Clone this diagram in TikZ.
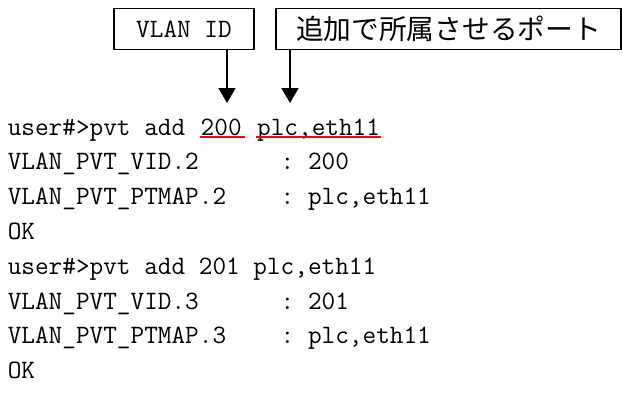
\documentclass[tikz,border=0pt]{standalone}
\usepackage{fontspec}
\usepackage{tikz}
\usetikzlibrary{arrows.meta}
\newfontfamily\jpfont{Noto Sans CJK JP}

\begin{document}
\begin{tikzpicture}[x=1pt, y=1pt, line width=1.6pt,
  term/.style={anchor=base west, inner sep=0pt, font=\fontsize{26.5}{35}\ttfamily},
  labelbox/.style={draw, minimum height=41pt, inner sep=0pt},
  pointer/.style={-{Triangle[width=17pt,length=15pt]}},
  markline/.style={red, line width=1.4pt}]
  \useasboundingbox (0,0) rectangle (622,392);
  \node [labelbox, minimum width=140pt, font=\fontsize{26.5}{35}\ttfamily] (vlanbox) at (184,363) {VLAN ID};
  \node [labelbox, minimum width=345pt, font=\fontsize{27.7}{35}\jpfont] (portbox) at (448.5,363) {追加で所属させるポート};
  \node [term] (cmd) at (7,257) {user\#>pvt~add};
  \node [term] (vid) at ([xshift=13.9pt]cmd.base east) {200};
  \node [term] (ports) at ([xshift=13.9pt]vid.base east) {plc,eth11};
  \node [term] (vidline) at (7,222.2) {VLAN\_PVT\_VID.2~~~~~~:~200};
  \node [term] (mapline) at (7,187.4) {VLAN\_PVT\_PTMAP.2~~~~:~plc,eth11};
  \node [term] (ok) at (7,152.6) {OK};
  \node [term] (cmdb) at (7,117.8) {user\#>pvt~add~201~plc,eth11};
  \node [term] (vidlineb) at (7,83) {VLAN\_PVT\_VID.3~~~~~~:~201};
  \node [term] (maplineb) at (7,48.2) {VLAN\_PVT\_PTMAP.3~~~~:~plc,eth11};
  \node [term] (okb) at (7,13.4) {OK};
  \coordinate (vidtip) at (227,289);
  \coordinate (porttip) at (290,289);
  \draw [pointer] (vlanbox.south -| vidtip) -- (vidtip);
  \draw [pointer] (portbox.south -| porttip) -- (porttip);
  \draw [markline] ([yshift=-2pt]vid.base west) -- ([shift={(3pt,-2pt)}]vid.base east);
  \draw [markline] ([yshift=-2pt]ports.base west) -- ([yshift=-2pt]ports.base east);
\end{tikzpicture}
\end{document}
